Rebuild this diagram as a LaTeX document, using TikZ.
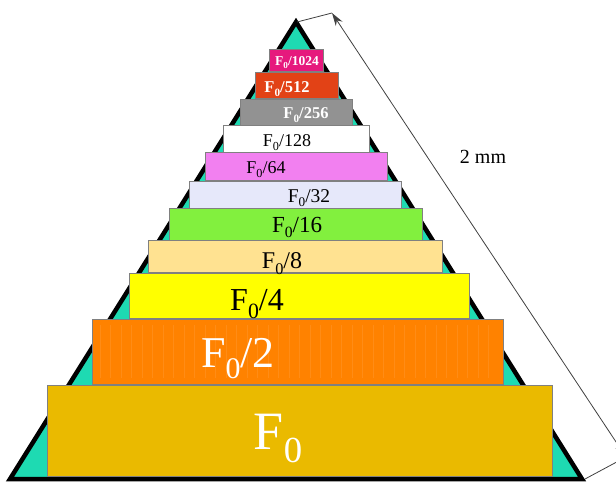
\documentclass[tikz,border=0pt]{standalone}
\usepackage{fontspec}
\setmainfont{Liberation Serif}
\usetikzlibrary{arrows.meta}
\definecolor{teal1}{RGB}{30,218,178}
\definecolor{boxgray}{RGB}{128,128,128}
\definecolor{c1024}{RGB}{230,25,125}
\definecolor{c512}{RGB}{226,66,22}
\definecolor{c256}{RGB}{146,146,146}
\definecolor{c128}{RGB}{255,255,255}
\definecolor{c64}{RGB}{242,128,240}
\definecolor{c32}{RGB}{230,232,250}
\definecolor{c16}{RGB}{130,240,62}
\definecolor{c8}{RGB}{255,226,145}
\definecolor{c4}{RGB}{255,255,0}
\definecolor{c2}{RGB}{255,130,0}
\definecolor{c1}{RGB}{234,186,0}
\definecolor{stripe}{RGB}{255,140,22}
\newcommand\Fz{F\raisebox{-0.25em}{\scalebox{0.68}{0}}}
\newcommand\pbox[6]{\node[box,fill=#6,minimum width={(#3-#1)*1pt},minimum height={(#4-#2)*1pt}] (#5) at (#1,#2) {};}
\begin{document}
\begin{tikzpicture}[x=1pt,y=-1pt,
  box/.style={draw=boxgray,line width=0.8pt,inner sep=0pt,outer sep=0pt,anchor=north west},
  lbl/.style={inner sep=0pt,anchor=base},
  dim/.style={draw=black!75,line width=0.8pt}]
\useasboundingbox (0,0) rectangle (616,483);
\clip (0,0) rectangle (616,483);
% pyramid
\coordinate (apex) at (296,22);
\coordinate (bl) at (10,479);
\coordinate (br) at (582,479);
\draw[line width=4.5pt,fill=teal1,line join=miter] (apex) -- (br) -- (bl) -- cycle;
% boxes
\pbox{269}{49}{323}{71}{b1024}{c1024}
\pbox{255}{72}{338}{98}{b512}{c512}
\pbox{240}{99}{352}{125}{b256}{c256}
\pbox{223}{125}{369}{152}{b128}{c128}
\pbox{205}{152}{387}{180}{b64}{c64}
\pbox{189}{181}{401}{208}{b32}{c32}
\pbox{169}{208}{422}{240}{b16}{c16}
\pbox{148}{240}{442}{272}{b8}{c8}
\pbox{129}{273}{469}{318}{b4}{c4}
\pbox{92}{319}{503}{384}{b2}{c2}
\foreach \i in {0,...,37} {
  \draw[stripe,line width=0.7pt] ({100+\i*10.5},325) -- ({100+\i*10.5},378);
}
\pbox{47}{385}{552}{476}{b1}{c1}
% labels
\node[lbl,text=white,font=\bfseries\fontsize{13.5}{14}\selectfont] (l1024) at (297,65) {\Fz/1024};
\node[lbl,text=white,font=\bfseries\fontsize{16.5}{17}\selectfont] (l512) at (287,92) {\Fz/512};
\node[lbl,text=white,font=\bfseries\fontsize{16.5}{17}\selectfont] (l256) at (306,118) {\Fz/256};
\node[lbl,font=\fontsize{18}{18}\selectfont] (l128) at (287,146) {\Fz/128};
\node[lbl,font=\fontsize{18}{18}\selectfont] (l64) at (266,173) {\Fz/64};
\node[lbl,font=\fontsize{19.5}{20}\selectfont] (l32) at (309,202) {\Fz/32};
\node[lbl,font=\fontsize{23}{23}\selectfont] (l16) at (297,232) {\Fz/16};
\node[lbl,font=\fontsize{24}{24}\selectfont] (l8) at (282,268) {\Fz/8};
\node[lbl,font=\fontsize{32}{32}\selectfont] (l4) at (257,310) {\Fz/4};
\node[lbl,text=white,font=\fontsize{44}{44}\selectfont] (l2) at (238,367) {\Fz/2};
\node[lbl,text=white,font=\fontsize{54}{54}\selectfont] (l1) at (278,449) {\Fz};
% dimension
\coordinate (dt) at (332,13);
\coordinate (db) at (626,457);
\coordinate (et) at (297,22);
\coordinate (eb) at (585,479);
\draw[dim] (et) -- (dt);
\draw[dim] (eb) -- (db);
\draw[dim,{Stealth[length=13pt,width=8pt]}-{Stealth[length=13pt,width=8pt]}] (dt) -- (db);
\node[lbl,font=\fontsize{20}{20}\selectfont] (dl) at (483,163) {2 mm};
\end{tikzpicture}
\end{document}
